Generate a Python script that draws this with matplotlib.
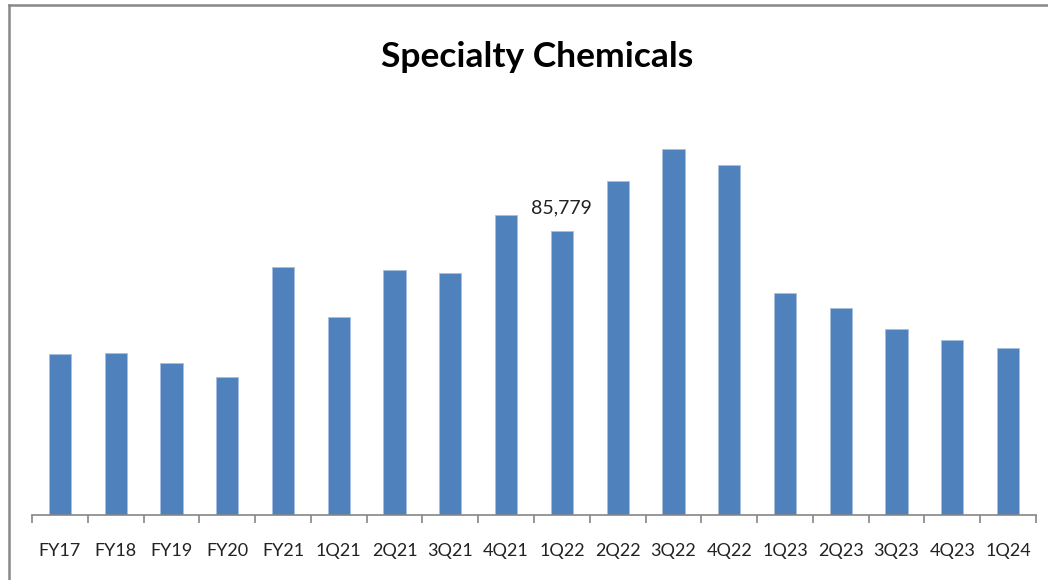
import matplotlib
matplotlib.use("Agg")
import matplotlib.pyplot as plt
import numpy as np
from matplotlib.lines import Line2D

categories = ["FY17", "FY18", "FY19", "FY20", "FY21", "1Q21", "2Q21", "3Q21", "4Q21",
              "1Q22", "2Q22", "3Q22", "4Q22", "1Q23", "2Q23", "3Q23", "4Q23", "1Q24"]
values = [48590, 48980, 45870, 41630, 74985, 59775, 74170, 73080, 90800,
          85779, 100900, 110660, 105730, 67210, 62500, 56330, 52820, 50590]
title = "Specialty Chemicals"
labelled = {"1Q22": "85,779"}

plt.rcParams['font.family'] = ['Lato', 'DejaVu Sans']

W, H = 1048, 580
fig = plt.figure(figsize=(W / 100, H / 100), dpi=100)
ax_left, ax_right, ax_base, ax_top = 32, 1036, 515, 100
ax = fig.add_axes([ax_left / W, (H - ax_base) / H, (ax_right - ax_left) / W, (ax_base - ax_top) / H])

x = np.arange(len(categories))
ax.bar(x, values, width=0.40, color="#4F81BD", edgecolor="#A7C0DE", linewidth=0.6, zorder=2)
ax.set_xlim(-0.5, len(categories) - 0.5)
ymax = 85779 / (515 - 231.3) * (ax_base - ax_top)
ax.set_ylim(0, ymax)

for i, c in enumerate(categories):
    if c in labelled:
        ax.annotate(labelled[c], (i, values[i]), xytext=(0, 11), textcoords="offset points",
                    ha="center", va="bottom", fontsize=14, color="#222222")

for s in ["top", "right", "left"]:
    ax.spines[s].set_visible(False)
ax.spines["bottom"].set_color("#868686")
ax.spines["bottom"].set_linewidth(1.2)
ax.set_yticks([])
ax.set_xticks(np.arange(-0.5, len(categories)), minor=False)
ax.set_xticklabels([])
ax.tick_params(axis="x", which="major", length=6, color="#868686", width=1.2, direction="out")
ax.set_xticks(x, minor=True)
ax.set_xticklabels(categories, minor=True)
ax.tick_params(axis="x", which="minor", length=0, pad=20, labelsize=13, labelcolor="#222222")

fig.text(537 / W, 1 - 57 / H, title, ha="center", va="center", fontsize=25.5, fontweight="bold", color="#000000")

fig.add_artist(Line2D([9 / W, 1], [1 - 5 / H, 1 - 5 / H], color="#888888", linewidth=1.8, transform=fig.transFigure))
fig.add_artist(Line2D([9 / W, 9 / W], [1 - 5 / H, 0], color="#888888", linewidth=1.8, transform=fig.transFigure))

fig.savefig("out.png", dpi=100)
